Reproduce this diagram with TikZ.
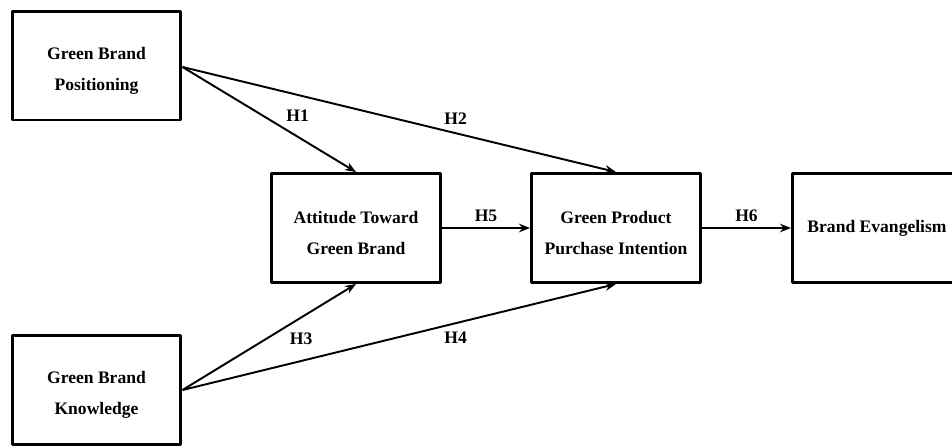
\documentclass[tikz,border=0pt]{standalone}
\usepackage{fontspec}
\setmainfont{Liberation Serif}
\usetikzlibrary{arrows.meta}

\begin{document}
\begin{tikzpicture}[x=0.02cm, y=-0.02cm, line join=round, >={Stealth[length=2.2mm, width=1.7mm]}]
  % ========================================================
  % 0. CANVAS (same proportions as the reference)
  % ========================================================
  \useasboundingbox (0,0) rectangle (952,447);
  \clip (0,0) rectangle (952,447);

  \tikzset{
    construct/.style={draw=black, line width=1.7pt, minimum width=3.38cm, minimum height=2.18cm,
      align=center, font=\fontsize{10}{17.6}\selectfont\bfseries, inner sep=0pt},
    twoline/.style={construct, text height=30.3pt},
    path/.style={->, line width=1.1pt},
    hyp/.style={font=\fontsize{10}{12}\selectfont\bfseries}
  }

  % ========================================================
  % 1. CONSTRUCT BOXES
  % ========================================================
  \node[twoline] (GBP) at (96.5,65.5) {Green Brand\\Positioning};
  \node[twoline] (GBK) at (96.5,390) {Green Brand\\Knowledge};
  \node[twoline] (ATGB) at (356,228) {Attitude Toward\\Green Brand};
  \node[twoline] (GPPI) at (616,228) {Green Product\\Purchase Intention};
  \node[construct] (BE) at (877,228) {Brand Evangelism};

  % ========================================================
  % 2. HYPOTHESIS PATHS
  % ========================================================
  \coordinate (GBPout) at (GBP.east |- 0,67);
  \coordinate (GBKout) at (GBK.east |- 0,390);

  \draw[path] (GBPout) -- (ATGB.north) node[hyp, pos=0.58, above right, xshift=-2pt] {H1};
  \draw[path] (GBPout) -- (GPPI.north) node[hyp, pos=0.63, above, yshift=1pt] {H2};
  \draw[path] (GBKout) -- (ATGB.south) node[hyp, pos=0.6, below right, xshift=-2pt] {H3};
  \draw[path] (GBKout) -- (GPPI.south) node[hyp, pos=0.63, below, yshift=-1pt] {H4};
  \draw[path] (ATGB.east) -- (GPPI.west) node[hyp, midway, above] {H5};
  \draw[path] (GPPI.east) -- (BE.west) node[hyp, midway, above] {H6};

\end{tikzpicture}
\end{document}
